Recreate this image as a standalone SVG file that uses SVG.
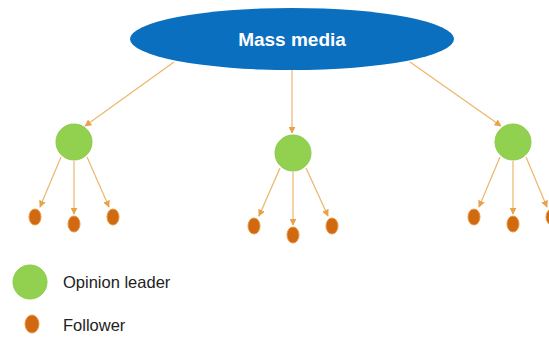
<svg xmlns="http://www.w3.org/2000/svg" width="549" height="338" viewBox="0 0 549 338">
  <style>
    .link { stroke: #EDB56B; stroke-width: 1.2; fill: none; marker-end: url(#arrow); }
    .leader { fill: #92D050; stroke: #8BCB4C; stroke-width: 1; }
    .follower { fill: #D0690F; stroke: #E89A45; stroke-width: 1; }
    .label { font-family: "Liberation Sans", Arial, sans-serif; fill: #222; font-size: 16.5px; }
  </style>
  <defs>
    <marker id="arrow" viewBox="0 0 10 10" refX="9" refY="5" markerWidth="7" markerHeight="7" orient="auto" markerUnits="userSpaceOnUse">
      <path d="M0,0 L10,5 L0,10 z" fill="#E8A24A"/>
    </marker>
  </defs>
  <rect width="549" height="338" fill="#ffffff"/>

  <g id="connectors">
    <!-- mass media to leaders -->
    <line class="link" x1="174" y1="62" x2="85" y2="126"/>
    <line class="link" x1="292" y1="70" x2="292" y2="133"/>
    <line class="link" x1="410" y1="62" x2="501" y2="126"/>
    <!-- left leader to followers -->
    <line class="link" x1="61" y1="157" x2="40" y2="207"/>
    <line class="link" x1="74" y1="161" x2="74" y2="214"/>
    <line class="link" x1="87" y1="157" x2="109" y2="207"/>
    <!-- middle leader to followers -->
    <line class="link" x1="280" y1="168" x2="259" y2="216"/>
    <line class="link" x1="293" y1="172" x2="293" y2="225"/>
    <line class="link" x1="306" y1="168" x2="328" y2="216"/>
    <!-- right leader to followers -->
    <line class="link" x1="500" y1="157" x2="479" y2="207"/>
    <line class="link" x1="513" y1="161" x2="513" y2="214"/>
    <line class="link" x1="526" y1="157" x2="547" y2="207"/>
  </g>

  <g id="mass-media">
    <ellipse cx="292" cy="39" rx="162" ry="31" fill="#0B6FBF"/>
    <text x="292" y="46" text-anchor="middle" font-family="Liberation Sans, Arial, sans-serif" font-weight="bold" font-size="19" fill="#ffffff">Mass media</text>
  </g>

  <g id="leader-left"><circle class="leader" cx="74" cy="142" r="18"/></g>
  <g id="leader-middle"><circle class="leader" cx="293" cy="153" r="18"/></g>
  <g id="leader-right"><circle class="leader" cx="513" cy="142" r="18"/></g>

  <g id="followers-left">
    <ellipse class="follower" cx="35" cy="217" rx="6" ry="8"/>
    <ellipse class="follower" cx="74" cy="224" rx="6" ry="8"/>
    <ellipse class="follower" cx="113" cy="217" rx="6" ry="8"/>
  </g>
  <g id="followers-middle">
    <ellipse class="follower" cx="254" cy="226" rx="6" ry="8"/>
    <ellipse class="follower" cx="293" cy="235" rx="6" ry="8"/>
    <ellipse class="follower" cx="332" cy="226" rx="6" ry="8"/>
  </g>
  <g id="followers-right">
    <ellipse class="follower" cx="474" cy="217" rx="6" ry="8"/>
    <ellipse class="follower" cx="513" cy="224" rx="6" ry="8"/>
    <ellipse class="follower" cx="552" cy="217" rx="6" ry="8"/>
  </g>

  <g id="legend">
    <circle class="leader" cx="30" cy="282" r="17"/>
    <text class="label" x="63" y="288">Opinion leader</text>
    <ellipse class="follower" cx="32" cy="324" rx="7" ry="9"/>
    <text class="label" x="63" y="331">Follower</text>
  </g>
</svg>
